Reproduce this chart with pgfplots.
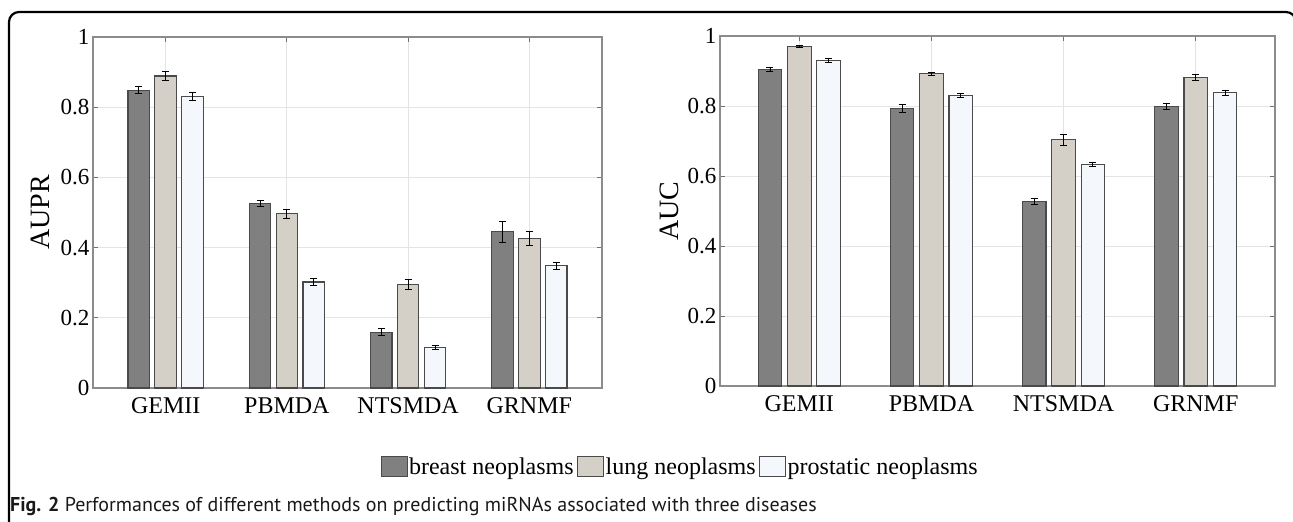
\documentclass[border=0pt]{standalone}
\usepackage{fontspec}
\setmainfont{Liberation Serif}
\newfontfamily\capfont{PT Sans}
\usepackage{pgfplots}
\pgfplotsset{compat=1.18}
\usepackage{pgfplotstable}

\definecolor{breast}{HTML}{808080}
\definecolor{lung}{HTML}{D4D0C8}
\definecolor{prost}{HTML}{F4F8FD}
\definecolor{edge}{HTML}{4A4A4A}
\definecolor{axgray}{HTML}{8C8C8C}
\definecolor{gridgray}{HTML}{E4E4E4}

% bar centres (xb, xl, xp) sit 0.222 either side of each group
\pgfplotstableread{
xb xl xp b be l le p pe
0.778 1 1.222 0.848 0.010 0.889 0.012 0.831 0.011
1.778 2 2.222 0.526 0.009 0.496 0.013 0.302 0.010
2.778 3 3.222 0.159 0.010 0.295 0.013 0.115 0.005
3.778 4 4.222 0.445 0.030 0.425 0.020 0.349 0.010
}\auprdata

\pgfplotstableread{
xb xl xp b be l le p pe
0.778 1 1.222 0.904 0.006 0.970 0.003 0.930 0.006
1.778 2 2.222 0.793 0.011 0.892 0.004 0.830 0.006
2.778 3 3.222 0.527 0.008 0.704 0.016 0.633 0.007
3.778 4 4.222 0.799 0.008 0.881 0.009 0.838 0.007
}\aucdata

\pgfplotsset{
  matbar/.style={
    scale only axis,
    ymin=0, ymax=1, xmin=0.4, xmax=4.6,
    xtick={1,2,3,4}, xticklabels={GEMII,PBMDA,NTSMDA,GRNMF},
    ytick={0,0.2,0.4,0.6,0.8,1},
    tick align=inside, major tick length=5pt,
    xmajorgrids, ymajorgrids,
    grid style={gridgray, line width=0.9pt},
    axis line style={axgray, line width=1.2pt},
    tick style={axgray!80!black, line width=1pt},
    /pgf/number format/assume math mode=true,
    yticklabel style={font=\fontsize{23}{27}\selectfont},
    xticklabel style={font=\fontsize{24}{28}\selectfont, yshift=-6pt},
    ylabel style={font=\fontsize{28}{32}\selectfont},
  },
  sbar/.style={ybar, bar width=0.178, bar shift=0, draw=edge, line width=1.1pt,
    error bars/y dir=both, error bars/y explicit,
    error bars/error bar style={black, line width=0.9pt},
    error bars/error mark options={rotate=90, black, mark size=3.5pt, line width=0.9pt}},
}

\begin{document}
\begin{tikzpicture}
\useasboundingbox (0pt,0pt) rectangle (1293pt,-522pt);
\draw[line width=2.2pt, rounded corners=10pt] (9pt,-530pt) -- (9pt,-12pt) -- (1296pt,-12pt) -- (1296pt,-530pt);

\begin{axis}[matbar, at={(93pt,-388pt)}, anchor=south west,
    width=509pt, height=351pt, ylabel={AUPR},
    ylabel style={at={(axis description cs:-0.104,0.5)}, anchor=center},
    legend columns=3,
    legend style={at={(1.153,-0.225)}, anchor=center, draw=none, fill=none,
      font=\fontsize{24}{28}\selectfont, inner sep=0pt,
      nodes={inner sep=1.5pt},
      /tikz/every even column/.append style={column sep=2pt}},
    legend image code/.code={\draw[#1, line width=1pt] (0pt,-10pt) rectangle (26pt,10pt);},
  ]
  \addplot[sbar, fill=breast] table[x=xb, y=b, y error=be] \auprdata;
  \addlegendentry{breast neoplasms}
  \addplot[sbar, fill=lung] table[x=xl, y=l, y error=le] \auprdata;
  \addlegendentry{lung neoplasms}
  \addplot[sbar, fill=prost] table[x=xp, y=p, y error=pe] \auprdata;
  \addlegendentry{prostatic neoplasms}
\end{axis}

\begin{axis}[matbar, at={(720pt,-386pt)}, anchor=south west,
    width=555pt, height=350pt, ylabel={AUC},
    ylabel style={at={(axis description cs:-0.092,0.5)}, anchor=center},
  ]
  \addplot[sbar, fill=breast] table[x=xb, y=b, y error=be] \aucdata;
  \addplot[sbar, fill=lung] table[x=xl, y=l, y error=le] \aucdata;
  \addplot[sbar, fill=prost] table[x=xp, y=p, y error=pe] \aucdata;
\end{axis}

\node[anchor=west, inner sep=0pt, text=black!90] at (10pt,-506pt)
  {\capfont\fontsize{20}{24}\selectfont\textbf{Fig. 2} Performances of different methods on predicting miRNAs associated with three diseases};
\end{tikzpicture}
\end{document}
